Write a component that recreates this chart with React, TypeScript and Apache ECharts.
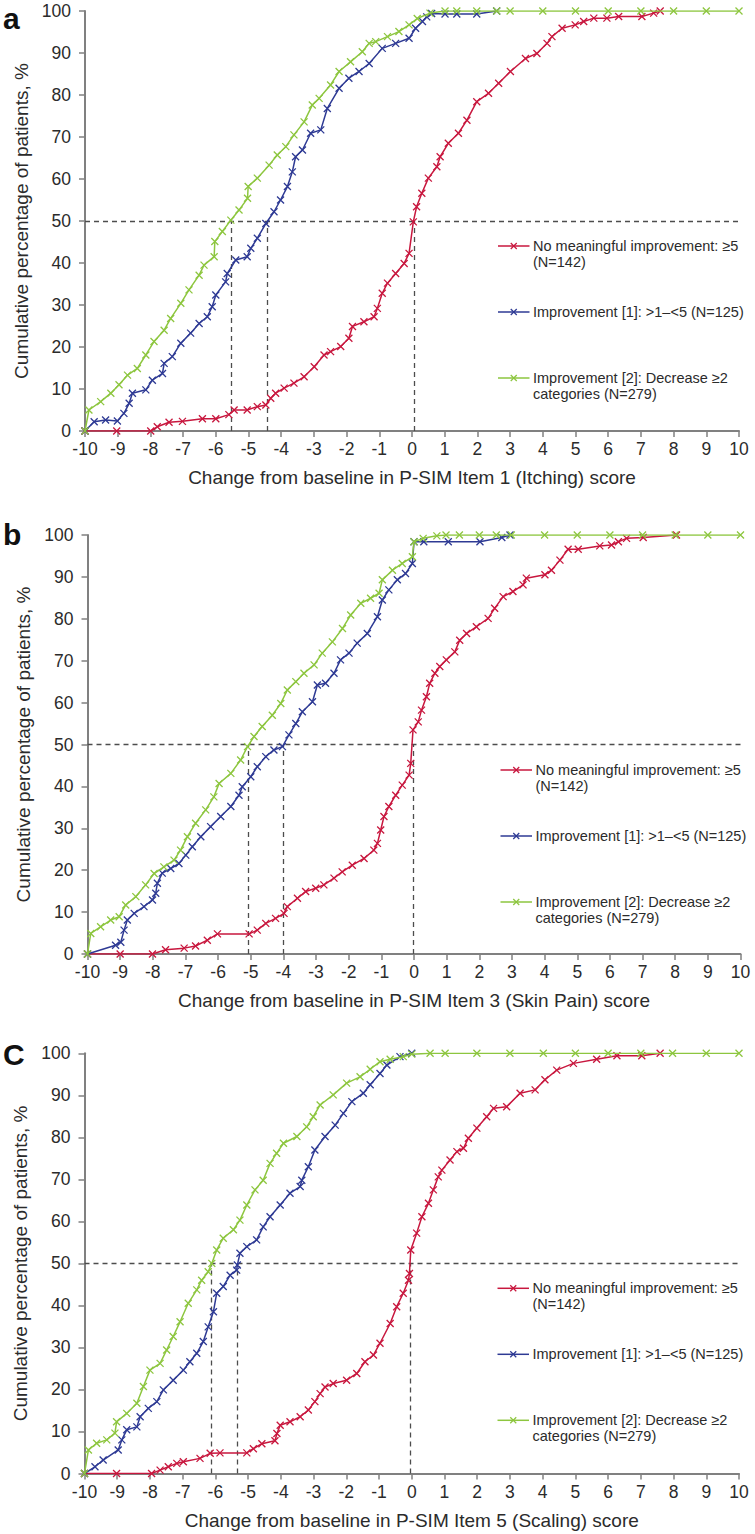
import React, { useEffect, useRef } from "react";
import * as echarts from "echarts";

// ---------- texts ----------
const panelLetters = ["a", "b", "C"];
const xAxisTitles = [
  "Change from baseline in P-SIM Item 1 (Itching) score",
  "Change from baseline in P-SIM Item 3 (Skin Pain) score",
  "Change from baseline in P-SIM Item 5 (Scaling) score",
];
const yAxisTitle = "Cumulative percentage of patients, %";
const seriesNames = [
  "No meaningful improvement: ≥5 (N=142)",
  "Improvement [1]: >1–<5 (N=125)",
  "Improvement [2]: Decrease ≥2 categories (N=279)",
];
const legendLines = [
  ["No meaningful improvement: ≥5", "(N=142)"],
  ["Improvement [1]: >1–<5 (N=125)"],
  ["Improvement [2]: Decrease ≥2", "categories (N=279)"],
];
const xMin = -10;
const xMax = 10;
const yMin = 0;
const yMax = 100;

// ---------- medians (x where curve crosses 50%) ----------
const itchMedians = [0.08, -4.44, -5.54];
const painMedians = [-0.03, -4.01, -5.08];
const scalingMedians = [-0.05, -5.33, -6.13];

// ---------- Panel a: Itching ----------
const itchNoMeaningful = [
  [-10, 0], [-9.03, 0], [-7.99, 0], [-7.79, 1.0], [-7.43, 2.1], [-7.02, 2.3], [-6.41, 2.9], [-6.0, 2.9],
  [-5.6, 3.9], [-5.44, 5.0], [-5.04, 5.0], [-4.73, 5.8], [-4.47, 6.2], [-4.32, 7.8], [-4.17, 9.0],
  [-3.91, 10.2], [-3.61, 11.4], [-3.3, 12.9], [-2.99, 15.3], [-2.69, 18.1], [-2.49, 18.9], [-2.18, 20.1],
  [-1.93, 22.1], [-1.82, 24.9], [-1.47, 26.0], [-1.16, 27.2], [-1.06, 29.2], [-0.91, 32.8], [-0.75, 35.2],
  [-0.5, 37.5], [-0.24, 39.9], [-0.09, 42.3], [0.04, 49.8], [0.14, 53.4], [0.3, 56.6], [0.5, 60.2],
  [0.76, 62.9], [0.86, 65.3], [1.11, 68.5], [1.42, 70.9], [1.68, 74.0], [1.98, 78.4], [2.34, 80.4],
  [2.65, 82.8], [3.01, 85.6], [3.47, 88.7], [3.82, 89.9], [4.13, 92.3], [4.28, 93.9], [4.59, 95.9],
  [4.99, 96.7], [5.25, 97.5], [5.56, 98.3], [5.96, 98.3], [6.32, 98.7], [7.03, 98.7], [7.39, 99.5], [7.59, 100],
];
const itchImprovement1 = [
  [-10, 0], [-9.72, 2.2], [-9.37, 2.6], [-9.01, 2.4], [-8.81, 4.2], [-8.65, 6.6], [-8.55, 9.0], [-8.14, 9.8],
  [-7.94, 12.1], [-7.63, 13.7], [-7.58, 16.1], [-7.33, 17.7], [-7.07, 20.9], [-6.77, 23.3], [-6.51, 25.6],
  [-6.26, 27.2], [-6.11, 29.6], [-6.0, 32.4], [-5.7, 35.5], [-5.65, 37.5], [-5.39, 40.7], [-5.04, 41.5],
  [-4.93, 43.5], [-4.73, 45.9], [-4.47, 49.4], [-4.22, 52.2], [-4.02, 55.0], [-3.81, 58.2], [-3.66, 61.7],
  [-3.56, 65.3], [-3.35, 66.9], [-3.1, 70.9], [-2.79, 71.7], [-2.59, 76.8], [-2.23, 81.6], [-1.93, 84.0],
  [-1.62, 85.6], [-1.31, 87.5], [-0.91, 91.1], [-0.5, 92.3], [-0.09, 93.5], [0.11, 95.9], [0.32, 97.5],
  [0.45, 98.6], [0.6, 99.4], [1.01, 99.3], [1.37, 99.3], [1.98, 99.3], [2.59, 100],
];
const itchImprovement2 = [
  [-10, 0], [-9.88, 5.0], [-9.52, 7.0], [-9.21, 9.0], [-8.96, 11.0], [-8.7, 13.3], [-8.4, 14.9], [-8.14, 18.1],
  [-7.89, 21.3], [-7.58, 24.0], [-7.38, 26.8], [-7.07, 30.4], [-6.82, 33.6], [-6.51, 37.1], [-6.36, 39.5],
  [-6.05, 41.5], [-6.03, 45.1], [-5.8, 47.5], [-5.54, 50.2], [-5.29, 52.6], [-5.03, 55.4], [-5.01, 58.2],
  [-4.73, 60.2], [-4.37, 63.3], [-4.12, 65.7], [-3.86, 67.7], [-3.61, 70.5], [-3.3, 73.6], [-3.05, 77.6],
  [-2.84, 79.2], [-2.49, 82.4], [-2.23, 85.6], [-1.88, 87.9], [-1.52, 90.3], [-1.31, 92.3], [-1.11, 92.7],
  [-0.75, 93.9], [-0.4, 95.1], [-0.09, 96.7], [0.16, 98.2], [0.55, 99.5], [1.01, 100], [1.37, 100],
  [1.98, 100], [2.59, 100], [3.0, 100], [4.0, 100], [5.0, 100], [6.0, 100], [7.0, 100], [8.0, 100],
  [9.0, 100], [10, 100],
];

// ---------- Panel b: Skin Pain ----------
const painNoMeaningful = [
  [-10, 0], [-9.0, 0], [-8.01, 0], [-7.61, 1.0], [-7.04, 1.4], [-6.69, 1.9], [-6.33, 3.3], [-6.02, 4.8],
  [-5.05, 4.8], [-4.8, 5.7], [-4.54, 7.3], [-4.24, 8.5], [-3.98, 9.7], [-3.88, 11.3], [-3.57, 13.3],
  [-3.32, 14.9], [-3.01, 15.7], [-2.76, 16.5], [-2.45, 18.1], [-2.2, 19.6], [-1.89, 21.2], [-1.53, 22.8],
  [-1.23, 24.8], [-1.12, 26.4], [-1.02, 29.6], [-0.92, 32.8], [-0.77, 35.2], [-0.56, 37.9], [-0.36, 40.3],
  [-0.15, 42.7], [-0.1, 45.5], [-0.03, 53.5], [0.13, 55.4], [0.23, 58.2], [0.38, 61.4], [0.48, 64.6],
  [0.64, 67.0], [0.79, 68.6], [0.99, 70.2], [1.25, 72.1], [1.4, 74.9], [1.61, 76.5], [1.91, 78.1],
  [2.27, 80.1], [2.47, 82.5], [2.73, 85.3], [3.03, 86.5], [3.34, 88.1], [3.44, 89.7], [4.01, 90.5],
  [4.21, 91.6], [4.47, 94.0], [4.72, 96.6], [5.03, 96.6], [5.69, 97.4], [6.05, 97.6], [6.26, 98.4],
  [6.51, 99.2], [7.02, 99.4], [8.04, 100],
];
const painImprovement1 = [
  [-10, 0], [-9.14, 2.1], [-8.98, 2.8], [-8.88, 5.7], [-8.78, 8.1], [-8.57, 9.7], [-8.27, 11.3], [-8.01, 12.9],
  [-7.91, 14.5], [-7.86, 16.9], [-7.71, 19.3], [-7.45, 20.4], [-7.2, 21.6], [-6.99, 23.6], [-6.79, 25.6],
  [-6.53, 28.0], [-6.23, 30.4], [-5.92, 32.8], [-5.61, 35.2], [-5.36, 37.9], [-5.26, 39.9], [-5.0, 42.3],
  [-4.8, 44.7], [-4.54, 47.1], [-4.29, 48.7], [-4.03, 49.5], [-3.83, 52.3], [-3.62, 55.0], [-3.42, 57.8],
  [-3.11, 60.2], [-2.96, 64.2], [-2.71, 64.6], [-2.45, 67.0], [-2.25, 70.2], [-1.99, 71.8], [-1.74, 74.2],
  [-1.43, 76.5], [-1.12, 80.5], [-0.97, 84.5], [-0.77, 86.9], [-0.51, 89.3], [-0.26, 90.8], [-0.05, 93.2],
  [0.0, 98.4], [0.3, 98.4], [1.05, 98.4], [2.02, 98.4], [2.69, 99.4], [2.94, 100],
];
const painImprovement2 = [
  [-10, 0], [-9.9, 4.9], [-9.6, 6.5], [-9.29, 8.1], [-9.03, 8.9], [-8.83, 11.7], [-8.52, 13.7], [-8.22, 16.5],
  [-7.96, 19.2], [-7.66, 20.8], [-7.35, 22.4], [-7.15, 24.8], [-6.94, 28.0], [-6.69, 31.2], [-6.38, 34.4],
  [-6.13, 37.5], [-5.97, 40.7], [-5.61, 43.1], [-5.31, 46.3], [-5.1, 49.5], [-4.9, 51.9], [-4.65, 54.3],
  [-4.34, 57.0], [-4.08, 59.8], [-3.88, 63.0], [-3.62, 65.0], [-3.37, 67.0], [-3.06, 69.0], [-2.81, 71.8],
  [-2.5, 74.5], [-2.19, 77.7], [-1.94, 80.9], [-1.63, 83.7], [-1.33, 84.9], [-1.07, 86.1], [-0.97, 89.3],
  [-0.66, 91.6], [-0.36, 93.2], [-0.05, 94.8], [0.0, 98.4], [0.28, 99.2], [0.7, 99.8], [0.98, 100],
  [1.39, 100], [2.0, 100], [2.52, 100], [2.98, 100], [4.0, 100], [5.0, 100], [6.0, 100], [7.0, 100],
  [8.0, 100], [9.0, 100], [10, 100],
];

// ---------- Panel c: Scaling ----------
const scalingNoMeaningful = [
  [-10, 0], [-9.02, 0], [-7.95, 0], [-7.69, 0.8], [-7.44, 1.6], [-7.18, 2.4], [-6.98, 2.8], [-6.47, 3.6],
  [-6.16, 4.8], [-5.86, 4.9], [-5.04, 4.9], [-4.84, 5.9], [-4.58, 7.1], [-4.18, 7.8], [-4.12, 9.5],
  [-4.02, 11.5], [-3.72, 12.3], [-3.41, 13.5], [-3.16, 15.1], [-2.96, 17.1], [-2.8, 19.0], [-2.65, 20.6],
  [-2.4, 21.4], [-1.99, 22.2], [-1.68, 23.8], [-1.43, 26.6], [-1.17, 28.2], [-0.97, 31.0], [-0.66, 35.7],
  [-0.46, 39.7], [-0.26, 42.9], [-0.1, 46.0], [-0.07, 47.6], [-0.03, 53.2], [0.15, 57.2], [0.31, 61.1],
  [0.51, 64.3], [0.66, 67.5], [0.81, 70.6], [0.92, 72.2], [1.17, 74.6], [1.38, 76.6], [1.58, 77.4],
  [1.73, 79.8], [1.99, 82.2], [2.29, 84.9], [2.5, 86.9], [2.9, 87.3], [3.31, 90.5], [3.77, 91.3],
  [4.07, 93.7], [4.43, 96.0], [4.94, 97.6], [5.65, 98.6], [6.27, 99.4], [7.03, 99.4], [7.59, 100],
];
const scalingImprovement1 = [
  [-10, 0], [-9.68, 1.6], [-9.43, 3.2], [-8.97, 5.6], [-8.86, 8.0], [-8.71, 10.4], [-8.4, 11.1], [-8.3, 13.5],
  [-8.05, 15.5], [-7.79, 17.1], [-7.59, 19.9], [-7.29, 22.2], [-6.98, 24.6], [-6.78, 26.6], [-6.57, 28.6],
  [-6.37, 31.4], [-6.22, 34.9], [-6.06, 38.5], [-5.96, 42.9], [-5.76, 44.5], [-5.55, 47.2], [-5.35, 48.4],
  [-5.33, 49.6], [-5.25, 52.4], [-5.04, 54.0], [-4.74, 55.6], [-4.54, 58.7], [-4.33, 61.1], [-4.02, 63.9],
  [-3.72, 66.7], [-3.41, 68.3], [-3.36, 69.8], [-3.16, 73.0], [-2.96, 77.0], [-2.65, 80.2], [-2.34, 82.9],
  [-2.09, 85.7], [-1.83, 88.5], [-1.48, 90.5], [-1.27, 92.5], [-0.97, 95.2], [-0.76, 97.2], [-0.36, 99.2],
  [0.0, 100],
];
const scalingImprovement2 = [
  [-10, 0], [-9.88, 5.6], [-9.63, 7.2], [-9.32, 8.0], [-9.07, 9.6], [-9.02, 12.3], [-8.71, 14.3], [-8.4, 16.7],
  [-8.2, 20.7], [-8.0, 24.6], [-7.69, 26.2], [-7.49, 29.4], [-7.29, 32.6], [-7.08, 36.1], [-6.83, 40.5],
  [-6.57, 43.7], [-6.42, 46.0], [-6.22, 48.0], [-6.11, 50.0], [-5.96, 53.2], [-5.76, 56.0], [-5.45, 58.0],
  [-5.25, 60.3], [-5.04, 63.9], [-4.79, 67.5], [-4.54, 69.8], [-4.33, 73.8], [-4.13, 76.2], [-3.92, 78.6],
  [-3.51, 80.2], [-3.21, 82.5], [-3.01, 84.9], [-2.8, 87.7], [-2.4, 90.1], [-1.99, 92.9], [-1.58, 94.4],
  [-1.27, 96.2], [-0.97, 98.0], [-0.66, 98.6], [-0.26, 99.2], [0.0, 99.8], [0.56, 100], [1.02, 100],
  [1.99, 100], [3.0, 100], [4.02, 100], [5.0, 100], [6.0, 100], [7.0, 100], [7.97, 100], [9.0, 100],
  [10, 100],
];

// ---------- style ----------
const COLORS = ["#c8173e", "#2e3a94", "#8dc63f"];
const AXIS_COLOR = "#808080";
const TEXT_COLOR = "#2b2b2b";
const FONT = "'Liberation Sans', Arial, Helvetica, sans-serif";
const MARK = "path://M0,0L10,10M0,10L10,0";

const panels = [
  { left: 85, top: 11, width: 654, height: 420, series: [itchNoMeaningful, itchImprovement1, itchImprovement2], medians: itchMedians },
  { left: 87.5, top: 535, width: 653, height: 419, series: [painNoMeaningful, painImprovement1, painImprovement2], medians: painMedians },
  { left: 84.5, top: 1053.3, width: 654.5, height: 420.2, series: [scalingNoMeaningful, scalingImprovement1, scalingImprovement2], medians: scalingMedians },
];
const letterPos = [
  { x: 3, y: 18.6 },
  { x: 3, y: 534.6 },
  { x: 3, y: 1054.6 },
];
const legendOffsets = [[235, 251], [301], [367, 383]];

function buildOption() {
  const grid: any[] = [];
  const xAxis: any[] = [];
  const yAxis: any[] = [];
  const series: any[] = [];
  const graphic: any[] = [];

  panels.forEach((p, gi) => {
    grid.push({ left: p.left, top: p.top, width: p.width, height: p.height, containLabel: false });
    xAxis.push({
      type: "value",
      gridIndex: gi,
      min: xMin,
      max: xMax,
      interval: 1,
      axisLine: { onZero: false, lineStyle: { color: AXIS_COLOR, width: 2 } },
      axisTick: { show: true, length: 6, lineStyle: { color: AXIS_COLOR, width: 1.5 } },
      axisLabel: { fontSize: 17.5, color: TEXT_COLOR, margin: 9, fontFamily: FONT },
      splitLine: { show: false },
      name: xAxisTitles[gi],
      nameLocation: "middle",
      nameGap: 37,
      nameTextStyle: { fontSize: 19, color: TEXT_COLOR, fontFamily: FONT },
    });
    yAxis.push({
      type: "value",
      gridIndex: gi,
      min: yMin,
      max: yMax,
      interval: 10,
      axisLine: { show: true, onZero: false, lineStyle: { color: AXIS_COLOR, width: 2 } },
      axisTick: { show: true, length: 6, lineStyle: { color: AXIS_COLOR, width: 1.5 } },
      axisLabel: { fontSize: 17.5, color: TEXT_COLOR, margin: 14, fontFamily: FONT },
      splitLine: { show: false },
      name: yAxisTitle,
      nameLocation: "middle",
      nameGap: 51,
      nameTextStyle: { fontSize: 19, color: TEXT_COLOR, fontFamily: FONT },
    });

    const markData: any[] = [[{ coord: [xMin, 50] }, { coord: [xMax, 50] }]];
    p.medians.forEach((m) => markData.push([{ coord: [m, 0] }, { coord: [m, 50] }]));

    p.series.forEach((data, si) => {
      const c = COLORS[si];
      const s: any = {
        type: "line",
        name: seriesNames[si],
        data,
        xAxisIndex: gi,
        yAxisIndex: gi,
        symbol: MARK,
        symbolSize: 7,
        showAllSymbol: true,
        lineStyle: { color: c, width: 1.5 },
        itemStyle: { color: "rgba(0,0,0,0)", borderColor: c, borderWidth: 1.3 },
        emphasis: { disabled: true },
        silent: true,
        z: 3 + si,
      };
      if (si === 0) {
        s.markLine = {
          silent: true,
          symbol: ["none", "none"],
          label: { show: false },
          lineStyle: { type: [5, 4], color: "#4d4d4d", width: 1.3 },
          emphasis: { disabled: true },
          data: markData,
          z: 1,
        };
      }
      series.push(s);
    });

    // legend (drawn manually to match the original layout)
    legendOffsets.forEach((offs, li) => {
      const c = COLORS[li];
      const y = p.top + offs[0];
      const lx = p.left + 413;
      graphic.push({ type: "line", shape: { x1: lx, y1: y, x2: lx + 31.5, y2: y }, style: { stroke: c, lineWidth: 1.5 }, silent: true });
      const cx = lx + 15.75;
      graphic.push({ type: "line", shape: { x1: cx - 3, y1: y - 3, x2: cx + 3, y2: y + 3 }, style: { stroke: c, lineWidth: 1.3 }, silent: true });
      graphic.push({ type: "line", shape: { x1: cx - 3, y1: y + 3, x2: cx + 3, y2: y - 3 }, style: { stroke: c, lineWidth: 1.3 }, silent: true });
      legendLines[li].forEach((t, k) => {
        graphic.push({
          type: "text",
          silent: true,
          style: {
            text: t,
            x: p.left + 448,
            y: p.top + offs[k],
            fill: TEXT_COLOR,
            fontSize: 14.5,
            fontFamily: FONT,
            align: "left",
            verticalAlign: "middle",
          },
        });
      });
    });

    graphic.push({
      type: "text",
      silent: true,
      style: {
        text: panelLetters[gi],
        x: letterPos[gi].x,
        y: letterPos[gi].y,
        fill: "#111111",
        fontSize: 30,
        fontWeight: "bold",
        fontFamily: FONT,
        align: "left",
        verticalAlign: "middle",
      },
    });
  });

  return {
    animation: false,
    backgroundColor: "#ffffff",
    textStyle: { fontFamily: FONT },
    grid,
    xAxis,
    yAxis,
    series,
    graphic,
  };
}

export default function App() {
  const ref = useRef<HTMLDivElement>(null);
  useEffect(() => {
    if (!ref.current) return;
    const chart = echarts.init(ref.current, undefined, { renderer: "svg" });
    chart.setOption(buildOption() as any);
    return () => chart.dispose();
  }, []);
  return (
    <div
      ref={ref}
      style={{ position: "absolute", left: 0, top: 0, width: 755, height: 1534, background: "#fff" }}
    />
  );
}
